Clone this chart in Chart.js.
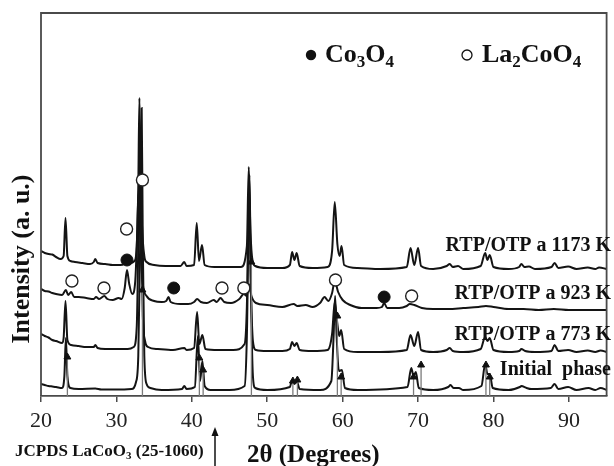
<!DOCTYPE html>
<html><head><meta charset="utf-8">
<script src="https://cdn.jsdelivr.net/npm/chart.js@4.4.1/dist/chart.umd.min.js"></script>
<style>html,body{margin:0;padding:0;background:#fff;}#wrap{width:614px;height:466px;position:relative;}</style>
</head><body><div id="wrap"><canvas id="c" width="614" height="466"></canvas></div>
<script>
// ---------- DATA (2θ in degrees, intensity in arbitrary stacked units) ----------
const tth1173 = [20,20.5,21,21.5,22,22.6,23,23.25,23.5,23.9,24.5,25.5,26.5,27,27.2,27.5,28.5,29.5,30.5,31,31.4,31.8,32.4,32.7,32.9,33.05,33.2,33.4,33.7,34,35,36.5,38.5,39,39.3,40.3,40.65,40.95,41.35,41.7,43,45,46.5,47.3,47.55,47.75,48,48.4,50,52,53,53.3,53.6,53.9,54.3,56,58,58.6,58.95,59.3,59.6,59.85,60.2,62,65,68.5,69,69.5,70,70.4,72,73.8,74.2,74.6,75.3,76,78.3,78.9,79.2,79.5,80,82,83.4,83.7,84.1,84.7,85.5,87.7,88.1,88.6,89.9,91,92.5,93.5,94,95];
const int1173 = [145,143,142,141.5,139,137,140,178,140,135,134,133,132,134,137,133,132,131,131,132,136,133,135,150,210,298,230,170,140,134,131,130,130,134,130,131,173,135,151,131,129,129,129,150,229,170,138,130,128,128,131,144,136,143,130,128,129,145,194,152,140,150,131,128,127,129,148,131,148,130,127,130,132,129,130,127,130,143,136,141,129,127,129,132,129,129.5,127,129,133,128,129.5,127,128.5,127,128.5,127];

const tth923 = [20,20.5,21,21.5,22,22.8,23.3,23.6,24,24.4,25,26,27,27.3,27.7,28.4,28.8,29.5,30.3,30.7,31.1,31.4,31.7,32.1,32.5,32.7,32.95,33.2,33.5,34,35,36,36.6,36.9,37.2,38.5,39.5,40.3,40.7,41.2,42,42.9,43.3,43.8,44.3,45.2,46.3,46.9,47.3,47.55,47.9,48.5,50,52,53.5,54,55.1,56,57,57.6,58.1,58.6,58.95,59.4,60,61,62.5,64.5,65.2,65.5,65.9,67.5,68.5,68.9,69.5,70.5,72,74,76,78,79,80,82,84,86,88,90,92,95];
const int923 = [107,105,104.5,103,102,101,106,101,104,99,99,98,97,99,97,100,97,96,98,97,108,126,112,102,115,150,206,150,112,100,95,94,95,99,94,92,92,94,97,94,93,96,94,98,94,93,97,102,100,112,100,93,91,89,92,90,91,89,93,99,95,103,115,104,96,91,88,88,89,93,88,88,90,92,91,88,87,87,88,89,90,89,87,87,86,87,86,86,86];

const tth773 = [20,20.5,21,21.5,22,22.8,23,23.25,23.5,24,25,26,27,27.2,27.5,28.5,30,31.5,32.3,32.7,32.9,33.1,33.3,33.5,33.8,34.2,35.5,37.5,39,39.3,40.3,40.7,41,41.4,41.8,43.5,45.5,47,47.3,47.6,47.8,48.1,48.5,50,52,53,53.3,53.6,53.9,54.3,56,58,58.6,58.95,59.3,59.55,59.8,60.2,62,65,68.5,69,69.5,70,70.4,72,73.8,74.2,74.6,76,78.3,78.9,79.2,79.5,80,82,83.4,83.7,84.2,85.5,87.7,88.1,88.6,89.9,91,92.5,93.5,94.2,95];
const int773 = [62,60,58.5,56,55,53,58,95,56,51,50,49,49,51,48,47,47,47,49,70,150,246,160,80,55,49,47,46,48,46,48,84,52,61,47,46,46,52,90,211,120,55,46,45,45,47,54,50,53,46,45,46,62,94,72,60,66,47,44,44,46,61,50,64,46,44,46,48,45,44,47,59,55,58,46,44,45,47,45,44,45,51,45,46,44,45.5,44,45.5,44];

const tthInit = [20,20.5,21,21.5,22,22.8,23.1,23.3,23.5,23.9,25,27.2,28,30,32,32.6,32.9,33.15,33.35,33.5,33.7,34,34.5,36,38.7,39,39.3,40.4,40.8,41.1,41.4,41.7,42.5,45,47,47.3,47.65,47.85,48.1,48.4,50,53,53.3,53.6,53.9,54.3,57,58.5,58.8,59,59.2,59.5,59.9,60.3,62,68.6,69.1,69.4,69.7,70.1,72,74,74.3,74.7,75.4,76,78.4,78.9,79.2,79.5,79.9,82,83.5,83.7,84.4,85,87.6,88.1,88.6,89.9,91,92.6,93.5,94.2,95];
const intInit = [12,11,10,9.5,9,8,20,58,20,8,7,7.5,6.5,6.5,7,14,40,150,288,150,40,12,8,6,7,10,7,9,60,15,35,10,6,6,10,60,221,100,20,8,6,9,16,12,15,7,6,15,60,100,60,25,26,8,6,9,28,20,24,8,6,9,11,8,8,6,10,32,22,22,8,6,9,10,8,7,8,12,7,9,6,8,6,8,6];

// JCPDS LaCoO3 (25-1060) reference lines
const jcpdsPos    = [23.5,33.45,41.0,41.5,47.9,53.4,54.0,59.3,59.8,69.4,70.4,79.0,79.5];
const jcpdsHeight = [39,106,38,26,134,15,16,80,19,19,31,31,19];

// phase markers
const co3o4Pos = [31.4,37.6,65.5];
const co3o4Int = [136,108,99];
const la2coo4Pos = [33.45,31.35,24.1,28.35,44.0,46.9,59.05,69.15];
const la2coo4Int = [216,167,115,108,108,108,116,100];

const xTicks = [20,30,40,50,60,70,80,90];
const sampleLabels = ['RTP/OTP a 1173 K','RTP/OTP a 923 K','RTP/OTP a 773 K','Initial  phase'];

// ---------- build datasets ----------
const toPts = (xs, ys) => xs.map((x, i) => ({x: x, y: ys[i]}));
const stickPts = [];
jcpdsPos.forEach((p, i) => { stickPts.push({x:p,y:0},{x:p,y:jcpdsHeight[i]},{x:p,y:null}); });

const traceStyle = {borderColor:'#141414', borderWidth:2, pointRadius:0, fill:false, cubicInterpolationMode:'monotone'};
const SERIF = "'Liberation Serif','DejaVu Serif',serif";

// label baseline positions (in value units) — layout only
const labelBase = [145, 97, 56, 21];

function drawRich(ctx, x, y, parts, size) {
  let cx = x;
  parts.forEach(p => {
    const s = p[1] ? Math.round(size*0.66) : size;
    ctx.font = 'bold ' + s + 'px ' + SERIF;
    ctx.fillText(p[0], cx, y + (p[1] ? size*0.2 : 0));
    cx += ctx.measureText(p[0]).width;
  });
}

const decor = {
  id: 'decor',
  afterDraw(chart) {
    const ctx = chart.ctx, a = chart.chartArea, ys = chart.scales.y;
    ctx.save();
    // frame
    ctx.strokeStyle = '#4a4a4a'; ctx.lineWidth = 1.8;
    ctx.beginPath();
    ctx.moveTo(a.left, a.bottom); ctx.lineTo(a.left, a.top); ctx.lineTo(a.right, a.top); ctx.lineTo(a.right, a.bottom);
    ctx.stroke();
    ctx.fillStyle = '#111'; ctx.textBaseline = 'alphabetic';
    // legend
    ctx.beginPath(); ctx.arc(311, 55, 5.2, 0, Math.PI*2); ctx.fill();
    drawRich(ctx, 325, 62, [['Co',0],['3',1],['O',0],['4',1]], 26);
    ctx.beginPath(); ctx.arc(467, 55, 5, 0, Math.PI*2); ctx.lineWidth = 1.3; ctx.strokeStyle = '#111'; ctx.stroke();
    drawRich(ctx, 482, 62, [['La',0],['2',1],['CoO',0],['4',1]], 26);
    // sample labels
    ctx.textAlign = 'right';
    ctx.font = 'bold 20px ' + SERIF;
    sampleLabels.forEach((t, i) => { ctx.fillText(t, 611, ys.getPixelForValue(labelBase[i])); });
    ctx.textAlign = 'left';
    // x title
    ctx.font = 'bold 25px ' + SERIF;
    ctx.fillText('2\u03b8 (Degrees)', 247, 462);
    // JCPDS label
    drawRich(ctx, 15, 456, [['JCPDS LaCoO',0],['3',1],[' (25-1060)',0]], 17);
    // arrow below axis
    ctx.strokeStyle = '#111'; ctx.lineWidth = 1.5;
    ctx.beginPath(); ctx.moveTo(215, 466); ctx.lineTo(215, 434); ctx.stroke();
    ctx.beginPath(); ctx.moveTo(215, 427); ctx.lineTo(211.5, 436); ctx.lineTo(218.5, 436); ctx.closePath(); ctx.fill();
    // y title
    ctx.translate(22, 259); ctx.rotate(-Math.PI/2);
    ctx.textAlign = 'center'; ctx.textBaseline = 'middle';
    ctx.font = 'bold 26px ' + SERIF;
    ctx.fillText('Intensity (a. u.)', 0, 0);
    ctx.restore();
  }
};

new Chart(document.getElementById('c'), {
  type: 'line',
  data: {
    datasets: [
      Object.assign({label:'1173 K', data: toPts(tth1173, int1173), order: 5}, traceStyle),
      Object.assign({label:'923 K', data: toPts(tth923, int923), order: 6}, traceStyle),
      Object.assign({label:'773 K', data: toPts(tth773, int773), order: 7}, traceStyle),
      Object.assign({label:'Initial phase', data: toPts(tthInit, intInit), order: 8}, traceStyle),
      {label:'JCPDS', data: stickPts, borderColor:'#7a7a7a', borderWidth:1.3, pointRadius:0, spanGaps:false, order: 4},
      {label:'JCPDS heads', data: toPts(jcpdsPos, jcpdsHeight), showLine:false, pointStyle:'triangle', pointRadius:4, backgroundColor:'#111', borderColor:'#111', borderWidth:1, order: 3},
      {label:'Co3O4', data: toPts(co3o4Pos, co3o4Int), showLine:false, pointStyle:'circle', pointRadius:6, backgroundColor:'#111', borderColor:'#111', borderWidth:1, order: 2},
      {label:'La2CoO4', data: toPts(la2coo4Pos, la2coo4Int), showLine:false, pointStyle:'circle', pointRadius:6, backgroundColor:'#fff', borderColor:'#222', borderWidth:1.4, order: 1}
    ]
  },
  options: {
    responsive: false, animation: false, devicePixelRatio: 1,
    layout: {padding: {left: 41, top: 13, right: 1, bottom: 0}},
    plugins: {legend: {display:false}, tooltip: {enabled:false}},
    elements: {line: {tension: 0}},
    scales: {
      x: {
        type: 'linear', min: 20, max: 95, offset: false,
        afterFit(s) { s.height = 70; },
        border: {display: true, color: '#4a4a4a', width: 1.8},
        grid: {drawOnChartArea: false, drawTicks: true, tickLength: 6, color: '#4a4a4a', lineWidth: 1.5},
        afterBuildTicks(s) { s.ticks = xTicks.map(v => ({value: v})); },
        ticks: {autoSkip: false, maxRotation: 0, padding: 6, color: '#222', font: {family: SERIF, size: 22}}
      },
      y: {display: false, min: 0, max: 383}
    }
  },
  plugins: [decor]
});
</script></body></html>
